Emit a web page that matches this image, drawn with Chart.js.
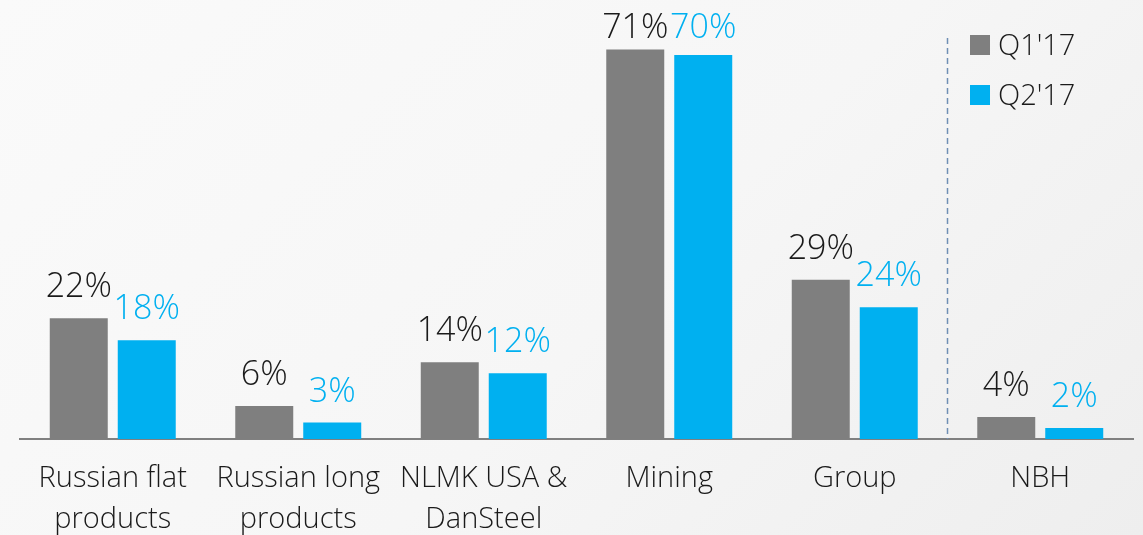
<!DOCTYPE html>
<html>
<head>
<meta charset="utf-8">
<title>EBITDA margin by segment</title>
<script src="https://cdn.jsdelivr.net/npm/chart.js@4.4.1/dist/chart.umd.min.js"></script>
<style>
    html, body {
        margin: 0;
        padding: 0;
        width: 1143px;
        height: 535px;
        overflow: hidden;
        background: linear-gradient(135deg, #fafafa 0%, #f6f6f6 55%, #eeeeee 100%);
    }
    #wrap {
        position: relative;
        width: 1143px;
        height: 535px;
    }
</style>
</head>
<body>
<div id="wrap">
    <canvas id="margin-chart"></canvas>
</div>
<script>
// Segment names (two-line tick labels) and margins in percent
var segments = [
    ['Russian flat', 'products'],
    ['Russian long', 'products'],
    ['NLMK USA &', 'DanSteel'],
    ['Mining'],
    ['Group'],
    ['NBH']
];
var q1Values = [22, 6, 14, 71, 29, 4];
var q2Values = [18, 3, 12, 70, 24, 2];
var seriesNames = ["Q1'17", "Q2'17"];

var GREY = '#7f7f7f';
var BLUE = '#00b0f0';
var FONT = "'Open Sans', 'Segoe UI', sans-serif";

// Percent labels on top of every bar
var valueLabels = {
    id: 'valueLabels',
    afterDatasetsDraw: function(chart) {
        var ctx = chart.ctx;
        ctx.save();
        ctx.font = '300 34px ' + FONT;
        ctx.textAlign = 'center';
        ctx.textBaseline = 'alphabetic';
        chart.data.datasets.forEach(function(ds, di) {
            var meta = chart.getDatasetMeta(di);
            ctx.fillStyle = di === 0 ? '#1a1a1a' : BLUE;
            meta.data.forEach(function(bar, i) {
                var y = Math.max(bar.y - 21, 38); // keep the tallest labels on the canvas
                ctx.fillText(ds.data[i] + '%', bar.x, y);
            });
        });
        ctx.restore();
    }
};

// Dashed divider between Group and NBH
var divider = {
    id: 'divider',
    beforeDatasetsDraw: function(chart) {
        var x = chart.scales.x;
        var px = (x.getPixelForTick(4) + x.getPixelForTick(5)) / 2;
        var ctx = chart.ctx;
        ctx.save();
        ctx.strokeStyle = '#6f8fb5';
        ctx.lineWidth = 1.5;
        ctx.setLineDash([6, 4]);
        ctx.beginPath();
        ctx.moveTo(px, 38);
        ctx.lineTo(px, chart.chartArea.bottom);
        ctx.stroke();
        ctx.restore();
    }
};

// Square-marker legend in the top right corner
var cornerLegend = {
    id: 'cornerLegend',
    afterDraw: function(chart) {
        var ctx = chart.ctx;
        ctx.save();
        ctx.font = '300 29px ' + FONT;
        ctx.textBaseline = 'alphabetic';
        ctx.textAlign = 'left';
        chart.data.datasets.forEach(function(ds, i) {
            var base = 55 + i * 50;
            ctx.fillStyle = ds.backgroundColor;
            ctx.fillRect(970, base - 20, 20, 20);
            ctx.fillStyle = '#1a1a1a';
            ctx.fillText(ds.label, 998, base);
        });
        ctx.restore();
    }
};

var ctx = document.getElementById('margin-chart').getContext('2d');
var marginChart = new Chart(ctx, {
    type: 'bar',
    data: {
        labels: segments,
        datasets: [
            {
                label: seriesNames[0],
                data: q1Values,
                backgroundColor: GREY,
                categoryPercentage: 0.733,
                barPercentage: 0.853
            },
            {
                label: seriesNames[1],
                data: q2Values,
                backgroundColor: BLUE,
                categoryPercentage: 0.733,
                barPercentage: 0.853
            }
        ]
    },
    options: {
        responsive: true,
        maintainAspectRatio: false,
        animation: false,
        layout: {
            padding: { left: 20, right: 10, top: 0, bottom: 0 }
        },
        scales: {
            x: {
                grid: { display: false },
                border: { display: true, color: '#808080', width: 2 },
                ticks: {
                    color: '#1a1a1a',
                    padding: 11,
                    maxRotation: 0,
                    autoSkip: false,
                    font: { family: FONT, size: 29, weight: '300', lineHeight: 1.42 }
                },
                afterFit: function(scale) {
                    scale.height = 96;
                }
            },
            y: {
                display: false,
                min: 0,
                max: 80
            }
        },
        plugins: {
            legend: { display: false },
            tooltip: { enabled: false }
        }
    },
    plugins: [divider, valueLabels, cornerLegend]
});
</script>
</body>
</html>
